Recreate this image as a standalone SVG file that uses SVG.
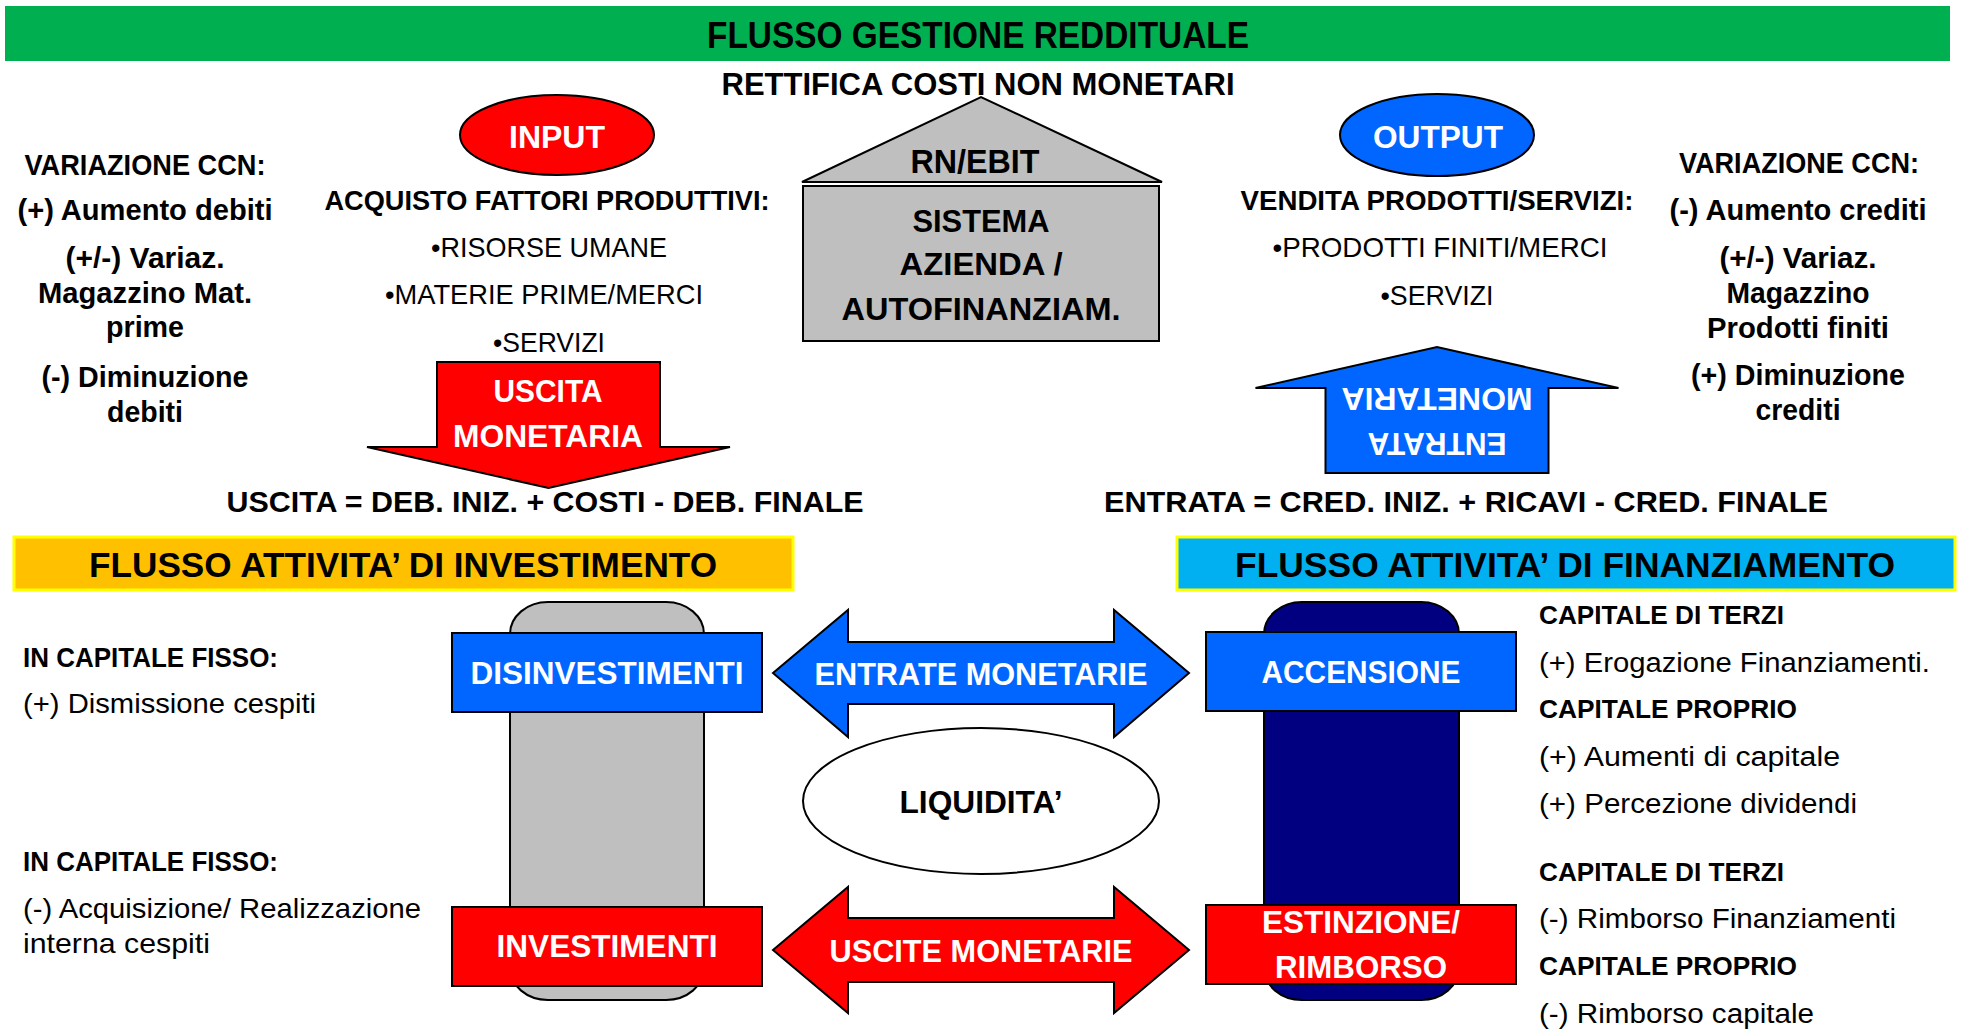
<svg xmlns="http://www.w3.org/2000/svg" width="1963" height="1031" viewBox="0 0 1963 1031">
<style>
text{font-family:'Liberation Sans',Arial,sans-serif;}
.b{font-weight:bold;}
.n{font-weight:normal;}
.c{text-anchor:middle;}
.w{fill:#FFFFFF;}
.k{fill:#000000;}
.ln{stroke:#000000;stroke-width:2;}
.red{fill:#FF0000;}
.blue{fill:#0066FF;}
</style>
<rect width="1963" height="1031" fill="#FFFFFF"/>

<g id="banner-gestione">
<rect x="5" y="6" width="1945" height="55" fill="#00B050"/>
<text class="b c k" x="978" y="48" font-size="36" textLength="542" lengthAdjust="spacingAndGlyphs">FLUSSO GESTIONE REDDITUALE</text>
</g>

<g id="rettifica">
<text class="b c k" x="978" y="95" font-size="32" textLength="513" lengthAdjust="spacingAndGlyphs">RETTIFICA COSTI NON MONETARI</text>
</g>

<g id="input">
<ellipse class="red ln" cx="557" cy="135" rx="97" ry="40" stroke-width="1.5"/>
<text class="b c w" x="557" y="148" font-size="32" textLength="96" lengthAdjust="spacingAndGlyphs">INPUT</text>
</g>

<g id="output">
<ellipse class="blue ln" cx="1437" cy="135" rx="97" ry="41" stroke-width="1.5"/>
<text class="b c w" x="1438" y="148" font-size="32" textLength="130" lengthAdjust="spacingAndGlyphs">OUTPUT</text>
</g>

<g id="ccn-left">
<text class="b c k" x="145" y="175" font-size="30" textLength="241" lengthAdjust="spacingAndGlyphs">VARIAZIONE CCN:</text>
<text class="b c k" x="145" y="220" font-size="30" textLength="255" lengthAdjust="spacingAndGlyphs">(+) Aumento debiti</text>
<text class="b c k" x="145" y="268" font-size="30" textLength="159" lengthAdjust="spacingAndGlyphs">(+/-) Variaz.</text>
<text class="b c k" x="145" y="303" font-size="30" textLength="214" lengthAdjust="spacingAndGlyphs">Magazzino Mat.</text>
<text class="b c k" x="145" y="337" font-size="30" textLength="78" lengthAdjust="spacingAndGlyphs">prime</text>
<text class="b c k" x="145" y="387" font-size="30" textLength="207" lengthAdjust="spacingAndGlyphs">(-) Diminuzione</text>
<text class="b c k" x="145" y="422" font-size="30" textLength="76" lengthAdjust="spacingAndGlyphs">debiti</text>
</g>

<g id="acquisto">
<text class="b c k" x="547" y="210" font-size="28" textLength="445" lengthAdjust="spacingAndGlyphs">ACQUISTO FATTORI PRODUTTIVI:</text>
<text class="n c k" x="549" y="257" font-size="28" textLength="236" lengthAdjust="spacingAndGlyphs">•RISORSE UMANE</text>
<text class="n c k" x="544" y="304" font-size="28" textLength="318" lengthAdjust="spacingAndGlyphs">•MATERIE PRIME/MERCI</text>
<text class="n c k" x="549" y="352" font-size="28" textLength="112" lengthAdjust="spacingAndGlyphs">•SERVIZI</text>
</g>

<g id="sistema-azienda">
<polygon points="802,182 981,97 1162,182" fill="#BFBFBF" class="ln"/>
<rect x="803" y="186" width="356" height="155" fill="#BFBFBF" class="ln"/>
<text class="b c k" x="975" y="173" font-size="33" textLength="129" lengthAdjust="spacingAndGlyphs">RN/EBIT</text>
<text class="b c k" x="981" y="232" font-size="32" textLength="137" lengthAdjust="spacingAndGlyphs">SISTEMA</text>
<text class="b c k" x="981" y="275" font-size="32" textLength="163" lengthAdjust="spacingAndGlyphs">AZIENDA /</text>
<text class="b c k" x="981" y="320" font-size="32" textLength="279" lengthAdjust="spacingAndGlyphs">AUTOFINANZIAM.</text>
</g>

<g id="vendita">
<text class="b c k" x="1437" y="210" font-size="28" textLength="393" lengthAdjust="spacingAndGlyphs">VENDITA PRODOTTI/SERVIZI:</text>
<text class="n c k" x="1440" y="257" font-size="28" textLength="335" lengthAdjust="spacingAndGlyphs">•PRODOTTI FINITI/MERCI</text>
<text class="n c k" x="1437" y="305" font-size="28" textLength="113" lengthAdjust="spacingAndGlyphs">•SERVIZI</text>
</g>

<g id="ccn-right">
<text class="b c k" x="1799" y="173" font-size="30" textLength="240" lengthAdjust="spacingAndGlyphs">VARIAZIONE CCN:</text>
<text class="b c k" x="1798" y="220" font-size="30" textLength="257" lengthAdjust="spacingAndGlyphs">(-) Aumento crediti</text>
<text class="b c k" x="1798" y="268" font-size="30" textLength="157" lengthAdjust="spacingAndGlyphs">(+/-) Variaz.</text>
<text class="b c k" x="1798" y="303" font-size="30" textLength="143" lengthAdjust="spacingAndGlyphs">Magazzino</text>
<text class="b c k" x="1798" y="338" font-size="30" textLength="182" lengthAdjust="spacingAndGlyphs">Prodotti finiti</text>
<text class="b c k" x="1798" y="385" font-size="30" textLength="214" lengthAdjust="spacingAndGlyphs">(+) Diminuzione</text>
<text class="b c k" x="1798" y="420" font-size="30" textLength="85" lengthAdjust="spacingAndGlyphs">crediti</text>
</g>

<g id="uscita-monetaria">
<path class="red ln" d="M437,362 L660,362 L660,447 L730,447 L548.5,488 L367,447 L437,447 Z"/>
<text class="b c w" x="548" y="402" font-size="31" textLength="109" lengthAdjust="spacingAndGlyphs">USCITA</text>
<text class="b c w" x="548" y="447" font-size="31" textLength="190" lengthAdjust="spacingAndGlyphs">MONETARIA</text>
</g>

<g id="entrata-monetaria" transform="rotate(180 1437 410)">
<path class="blue ln" d="M1325.5,347 L1548.5,347 L1548.5,432 L1618.5,432 L1437,473 L1255.5,432 L1325.5,432 Z"/>
<text class="b c w" x="1437" y="387" font-size="31" textLength="139" lengthAdjust="spacingAndGlyphs">ENTRATA</text>
<text class="b c w" x="1437" y="432" font-size="31" textLength="191" lengthAdjust="spacingAndGlyphs">MONETARIA</text>
</g>

<g id="formula-uscita">
<text class="b c k" x="545" y="512" font-size="30" textLength="637" lengthAdjust="spacingAndGlyphs">USCITA = DEB. INIZ. + COSTI - DEB. FINALE</text>
</g>
<g id="formula-entrata">
<text class="b c k" x="1466" y="512" font-size="30" textLength="724" lengthAdjust="spacingAndGlyphs">ENTRATA = CRED. INIZ. + RICAVI - CRED. FINALE</text>
</g>

<g id="header-investimento">
<rect x="14" y="537" width="779" height="53" fill="#FFC000" stroke="#FFFF00" stroke-width="3"/>
<text class="b c k" x="403" y="577" font-size="35" textLength="628" lengthAdjust="spacingAndGlyphs">FLUSSO ATTIVITA’ DI INVESTIMENTO</text>
</g>

<g id="header-finanziamento">
<rect x="1177" y="537" width="778" height="53" fill="#00B0F0" stroke="#FFFF00" stroke-width="3"/>
<text class="b c k" x="1565" y="577" font-size="35" textLength="660" lengthAdjust="spacingAndGlyphs">FLUSSO ATTIVITA’ DI FINANZIAMENTO</text>
</g>

<g id="investimento-text">
<text class="b k" x="23" y="667" font-size="28" textLength="255" lengthAdjust="spacingAndGlyphs">IN CAPITALE FISSO:</text>
<text class="n k" x="23" y="713" font-size="28" textLength="293" lengthAdjust="spacingAndGlyphs">(+) Dismissione cespiti</text>
<text class="b k" x="23" y="871" font-size="28" textLength="255" lengthAdjust="spacingAndGlyphs">IN CAPITALE FISSO:</text>
<text class="n k" x="23" y="918" font-size="28" textLength="398" lengthAdjust="spacingAndGlyphs">(-) Acquisizione/ Realizzazione</text>
<text class="n k" x="23" y="953" font-size="28" textLength="187" lengthAdjust="spacingAndGlyphs">interna cespiti</text>
</g>

<g id="colonna-investimento">
<rect x="510" y="602" width="194" height="398" rx="38" ry="32" fill="#BFBFBF" class="ln"/>
</g>
<g id="disinvestimenti">
<rect x="452" y="633" width="310" height="79" class="blue ln"/>
<text class="b c w" x="607" y="684" font-size="31" textLength="273" lengthAdjust="spacingAndGlyphs">DISINVESTIMENTI</text>
</g>
<g id="investimenti">
<rect x="452" y="907" width="310" height="79" class="red ln"/>
<text class="b c w" x="607" y="957" font-size="31" textLength="221" lengthAdjust="spacingAndGlyphs">INVESTIMENTI</text>
</g>

<g id="liquidita">
<ellipse cx="981" cy="801" rx="178" ry="73" fill="#FFFFFF" class="ln" stroke-width="1.5"/>
<text class="b c k" x="981" y="813" font-size="31" textLength="163" lengthAdjust="spacingAndGlyphs">LIQUIDITA’</text>
</g>

<g id="connectors">
<g id="entrate-monetarie">
<path class="blue ln" d="M773,673 L848,610 L848,642 L1114,642 L1114,610 L1189,673 L1114,737 L1114,704 L848,704 L848,737 Z"/>
<text class="b c w" x="981" y="685" font-size="31" textLength="333" lengthAdjust="spacingAndGlyphs">ENTRATE MONETARIE</text>
</g>
<g id="uscite-monetarie">
<path class="red ln" d="M773,950 L848,887 L848,918 L1114,918 L1114,887 L1189,950 L1114,1013 L1114,982 L848,982 L848,1013 Z"/>
<text class="b c w" x="981" y="962" font-size="31" textLength="303" lengthAdjust="spacingAndGlyphs">USCITE MONETARIE</text>
</g>
</g>

<g id="colonna-finanziamento">
<rect x="1264" y="602" width="195" height="398" rx="38" ry="32" fill="#000080" class="ln"/>
</g>
<g id="accensione">
<rect x="1206" y="632" width="310" height="79" class="blue ln"/>
<text class="b c w" x="1361" y="683" font-size="31" textLength="199" lengthAdjust="spacingAndGlyphs">ACCENSIONE</text>
</g>
<g id="estinzione">
<rect x="1206" y="905" width="310" height="79" class="red ln"/>
<text class="b c w" x="1361" y="933" font-size="31" textLength="198" lengthAdjust="spacingAndGlyphs">ESTINZIONE/</text>
<text class="b c w" x="1361" y="978" font-size="31" textLength="172" lengthAdjust="spacingAndGlyphs">RIMBORSO</text>
</g>

<g id="finanziamento-text">
<text class="b k" x="1539" y="624" font-size="26" textLength="245" lengthAdjust="spacingAndGlyphs">CAPITALE DI TERZI</text>
<text class="n k" x="1539" y="672" font-size="27" textLength="391" lengthAdjust="spacingAndGlyphs">(+) Erogazione Finanziamenti.</text>
<text class="b k" x="1539" y="718" font-size="26" textLength="258" lengthAdjust="spacingAndGlyphs">CAPITALE PROPRIO</text>
<text class="n k" x="1539" y="766" font-size="27" textLength="301" lengthAdjust="spacingAndGlyphs">(+) Aumenti di capitale</text>
<text class="n k" x="1539" y="813" font-size="27" textLength="318" lengthAdjust="spacingAndGlyphs">(+) Percezione dividendi</text>
<text class="b k" x="1539" y="881" font-size="26" textLength="245" lengthAdjust="spacingAndGlyphs">CAPITALE DI TERZI</text>
<text class="n k" x="1539" y="928" font-size="27" textLength="357" lengthAdjust="spacingAndGlyphs">(-) Rimborso Finanziamenti</text>
<text class="b k" x="1539" y="975" font-size="26" textLength="258" lengthAdjust="spacingAndGlyphs">CAPITALE PROPRIO</text>
<text class="n k" x="1539" y="1023" font-size="27" textLength="275" lengthAdjust="spacingAndGlyphs">(-) Rimborso capitale</text>
</g>
</svg>
